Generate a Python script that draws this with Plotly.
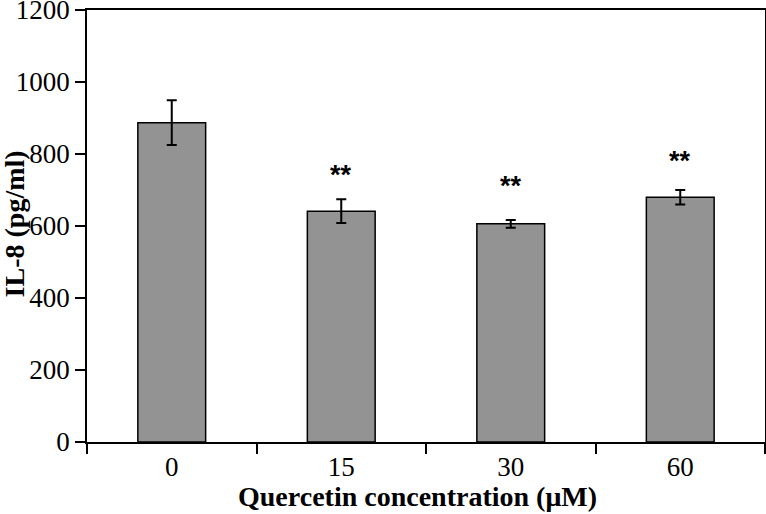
import plotly.graph_objects as go

categories = ["0", "15", "30", "60"]
il8_values = [887, 641, 606, 680]
il8_errors = [62, 33, 11, 20]
sig_labels = ["", "**", "**", "**"]
sig_y = [None, 742, 711, 781]
y_ticks = [0, 200, 400, 600, 800, 1000, 1200]
x_title = "Quercetin concentration (μM)"
y_title = "IL-8 (pg/ml)"

SERIF = "Liberation Serif, Times New Roman, serif"

fig = go.Figure()
fig.add_trace(go.Bar(
    x=categories, y=il8_values,
    width=0.4,
    marker=dict(color="#939393", line=dict(color="black", width=1.5)),
    error_y=dict(type="data", array=il8_errors, visible=True,
                 color="black", thickness=2, width=5),
    showlegend=False,
))

for i, (lab, yy) in enumerate(zip(sig_labels, sig_y)):
    if lab:
        fig.add_annotation(x=i, y=yy, text="<b>" + lab + "</b>", showarrow=False,
                           xanchor="center", yanchor="middle",
                           font=dict(family="Liberation Sans, Arial", size=27, color="black"))

# axis titles
fig.add_annotation(xref="paper", yref="paper", x=0.4875, y=-0.127,
                   text="<b>" + x_title + "</b>", showarrow=False,
                   xanchor="center", yanchor="middle",
                   font=dict(family=SERIF, size=28, color="black"))
fig.add_annotation(xref="paper", yref="paper", x=-0.1077, y=0.506,
                   text="<b>" + y_title + "</b>", showarrow=False, textangle=-90,
                   xanchor="center", yanchor="middle",
                   font=dict(family=SERIF, size=28, color="black"))

fig.update_layout(
    width=766, height=514,
    margin=dict(l=87, r=1, t=10, b=72),
    paper_bgcolor="white", plot_bgcolor="white",
    font=dict(family=SERIF, color="black"),
)
fig.update_xaxes(
    type="category", tickson="boundaries", range=[-0.5, 3.5],
    showline=True, linecolor="black", linewidth=1.5, mirror=True,
    ticks="outside", ticklen=10, tickwidth=1.5, tickcolor="black",
    tickfont=dict(size=27, family=SERIF),
    tickangle=0, automargin=False, ticklabeloverflow="allow",
    showgrid=False,
)
fig.update_yaxes(
    range=[0, 1200.01], tickvals=y_ticks, ticktext=[str(v) for v in y_ticks],
    showline=True, linecolor="black", linewidth=1.5, mirror=True,
    ticks="outside", ticklen=10, tickwidth=1.5, tickcolor="black",
    tickfont=dict(size=27, family=SERIF),
    showgrid=False, zeroline=False, automargin=False, ticklabeloverflow="allow",
)

fig.write_html("out.html", config={"displayModeBar": False},
               post_script="document.body.style.margin='0px';document.body.style.overflow='hidden';")
